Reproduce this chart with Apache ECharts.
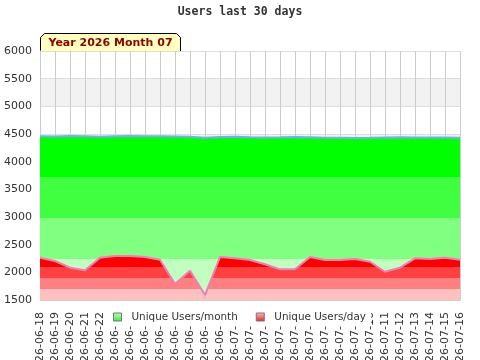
<!DOCTYPE html>
<html>
<head>
<meta charset="utf-8">
<script src="https://cdn.jsdelivr.net/npm/echarts@6/dist/echarts.min.js"></script>
<style>
	html, body { margin: 0; padding: 0; background: #fff; }
	#chart { width: 480px; height: 360px; }
</style>
</head>
<body>
<div id="chart"></div>
<script type="text/javascript">
// days shown on the x axis
var days = ['2026-06-18', '2026-06-19', '2026-06-20', '2026-06-21', '2026-06-22', '2026-06-23',
	'2026-06-24', '2026-06-25', '2026-06-26', '2026-06-27', '2026-06-28', '2026-06-29', '2026-06-30',
	'2026-07-01', '2026-07-02', '2026-07-03', '2026-07-04', '2026-07-05', '2026-07-06', '2026-07-07',
	'2026-07-08', '2026-07-09', '2026-07-10', '2026-07-11', '2026-07-12', '2026-07-13', '2026-07-14',
	'2026-07-15', '2026-07-16'];

// unique users over the last month (green)
var monthUsers = [4460, 4455, 4462, 4458, 4452, 4460, 4462, 4460, 4458, 4455, 4450, 4432, 4445,
	4450, 4440, 4436, 4440, 4445, 4440, 4432, 4430, 4426, 4430, 4438, 4440, 4436, 4435, 4435, 4432];

// unique users per day (red)
var dayUsers = [2264, 2205, 2084, 2036, 2264, 2295, 2295, 2277, 2228, 1789, 2030, 1590, 2277,
	2253, 2223, 2145, 2054, 2054, 2277, 2223, 2223, 2241, 2192, 2011, 2084, 2253, 2241, 2264, 2228];

var yMin = 1500, yMax = 6000, yStep = 500;
var title = 'Users last 30 days';
var badge = 'Year 2026 Month 07';

function bands(c) {
	// four hard steps, top to bottom
	return new echarts.graphic.LinearGradient(0, 0, 0, 1, [
		{offset: 0, color: c[0]}, {offset: 0.25, color: c[0]},
		{offset: 0.25, color: c[1]}, {offset: 0.5, color: c[1]},
		{offset: 0.5, color: c[2]}, {offset: 0.75, color: c[2]},
		{offset: 0.75, color: c[3]}, {offset: 1, color: c[3]}
	]);
}
var greens = ['#00ff00', '#40ff40', '#80ff80', '#c0ffc0'];
var reds = ['#ff0000', '#ff4040', '#ff8080', '#ffc0c0'];

var myChart = echarts.init(document.getElementById('chart'), null, {renderer: 'canvas'});
var option = {
	backgroundColor: '#fff',
	animation: false,
	title: {
		text: title,
		left: 'center',
		top: 6,
		padding: 0,
		textStyle: {
			fontFamily: 'DejaVu Sans Mono',
			fontWeight: 'bold',
			fontSize: 11.5,
			color: '#333'
		}
	},
	legend: {
		left: 108,
		top: 308,
		z: 10,
		backgroundColor: '#fff',
		padding: [4, 5, 4, 5],
		itemWidth: 8,
		itemHeight: 8,
		itemGap: 18,
		textStyle: {
			fontFamily: 'DejaVu Sans',
			fontSize: 10.4,
			color: '#333',
			padding: [0, 0, 0, 5]
		},
		data: [
			{name: 'Unique Users/month', icon: 'rect', itemStyle: {
				color: new echarts.graphic.LinearGradient(0, 0, 0, 1, [{offset: 0, color: '#c0ffc0'}, {offset: 1, color: '#30f030'}]),
				borderColor: '#777', borderWidth: 1}},
			{name: 'Unique Users/day', icon: 'rect', itemStyle: {
				color: new echarts.graphic.LinearGradient(0, 0, 0, 1, [{offset: 0, color: '#ffc0c0'}, {offset: 1, color: '#f02020'}]),
				borderColor: '#777', borderWidth: 1}}
		]
	},
	grid: {
		left: 40,
		right: 20,
		top: 51,
		bottom: 60,
		containLabel: false,
		outerBoundsMode: 'none'
	},
	xAxis: {
		type: 'category',
		data: days,
		boundaryGap: false,
		axisLine: {lineStyle: {color: '#ccc'}},
		axisTick: {show: false},
		axisLabel: {
			interval: 0,
			rotate: 90,
			margin: 12,
			fontFamily: 'DejaVu Sans',
			fontSize: 11,
			color: '#333'
		},
		splitLine: {show: true, lineStyle: {color: '#ccc'}}
	},
	yAxis: {
		type: 'value',
		min: yMin,
		max: yMax,
		interval: yStep,
		axisLine: {show: true, lineStyle: {color: '#ccc'}},
		axisTick: {show: false},
		axisLabel: {
			margin: 8,
			fontFamily: 'DejaVu Sans',
			fontSize: 11,
			color: '#333',
			formatter: function (v) { return String(v); }
		},
		splitLine: {show: true, lineStyle: {color: '#ddd'}},
		splitArea: {show: true, areaStyle: {color: ['#fff', '#f2f2f2']}}
	},
	graphic: [{
		type: 'group',
		left: 40,
		top: 33,
		z: 20,
		children: [{
			type: 'polygon',
			shape: {points: [[0, 4], [4, 0], [136, 0], [140, 4], [140, 18], [0, 18]]},
			style: {fill: '#ffffc0', stroke: '#000', lineWidth: 1}
		}, {
			type: 'text',
			x: 70,
			y: 10,
			style: {
				text: badge,
				fill: '#8b0000',
				font: 'bold 11px "DejaVu Sans"',
				align: 'center',
				verticalAlign: 'middle'
			}
		}]
	}],
	series: [{
		name: 'Unique Users/month',
		type: 'line',
		data: monthUsers,
		showSymbol: false,
		lineStyle: {color: '#78aaff', width: 2},
		itemStyle: {color: '#40ff40'},
		areaStyle: {color: bands(greens), opacity: 1},
		z: 2
	}, {
		name: 'Unique Users/day',
		type: 'line',
		data: dayUsers,
		showSymbol: false,
		lineStyle: {color: '#f07cb8', width: 2},
		itemStyle: {color: '#ff4040'},
		areaStyle: {color: bands(reds), opacity: 1},
		z: 3
	}]
};
myChart.setOption(option);
</script>
</body>
</html>
